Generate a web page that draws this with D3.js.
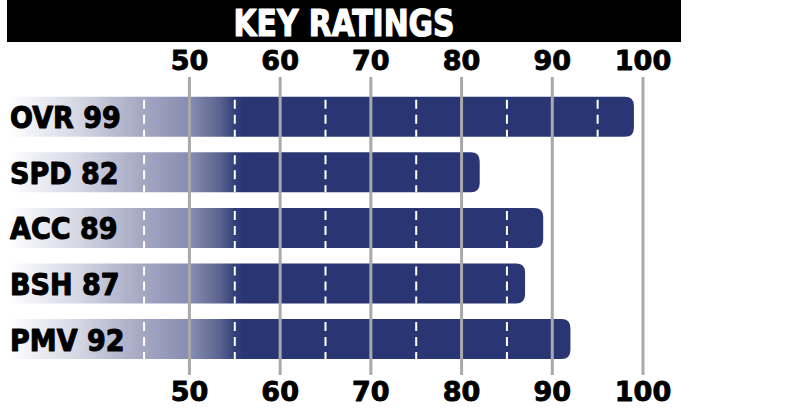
<!DOCTYPE html>
<html><head><meta charset="utf-8">
<script src="https://cdn.jsdelivr.net/npm/d3@7"></script>
<style>
html,body{margin:0;padding:0;background:#fff;}
svg{display:block;}
</style></head>
<body>
<svg id="chart" width="785" height="415"></svg>
<script>
const title = "KEY RATINGS";
const categories = ["OVR", "SPD", "ACC", "BSH", "PMV"];
const values = [99, 82, 89, 87, 92];
const tickValues = [50, 60, 70, 80, 90, 100];
const dashValues = [45, 55, 65, 75, 85, 95];
const domainMin = 30, domainMax = 100;

const svg = d3.select("#chart");
const navy = "#2a3673";

const x = d3.scaleLinear().domain([domainMin, domainMax]).range([8, 643]);
const y = d3.scaleBand().domain(categories).range([88.9, 366.9]).paddingInner(0.28).paddingOuter(0.14);

// title bar
svg.append("rect").attr("x", 7).attr("y", 0).attr("width", 674).attr("height", 42).attr("fill", "#000");
svg.append("text").attr("x", 344).attr("y", 35.5).attr("text-anchor", "middle")
  .attr("font-family", "DejaVu Sans Condensed, DejaVu Sans").attr("font-weight", "bold")
  .attr("font-size", 38).attr("fill", "#fff")
  .attr("stroke", "#fff").attr("stroke-width", 1.2).attr("stroke-linejoin", "round")
  .attr("textLength", 221).attr("lengthAdjust", "spacingAndGlyphs")
  .text(title);

// gradient
const defs = svg.append("defs");
const grad = defs.append("linearGradient").attr("id", "barGrad")
  .attr("gradientUnits", "userSpaceOnUse")
  .attr("x1", x(domainMin)).attr("x2", x(56)).attr("y1", 0).attr("y2", 0);
[[0, "#ffffff"], [0.3, "#d4d6e3"], [0.56, "#a5a9c3"], [0.78, "#858bb0"], [0.9, "#59628f"], [0.96, "#34407a"], [1, navy]]
  .forEach(([o, c]) => grad.append("stop").attr("offset", o).attr("stop-color", c));

const data = categories.map((c, i) => ({cat: c, value: values[i]}));
const r = 9;
function barPath(d) {
  const x0 = x(domainMin), x1 = x(d.value), y0 = y(d.cat), h = y.bandwidth();
  return `M${x0},${y0}H${x1 - r}Q${x1},${y0} ${x1},${y0 + r}V${y0 + h - r}Q${x1},${y0 + h} ${x1 - r},${y0 + h}H${x0}Z`;
}
svg.append("g").selectAll("path").data(data).join("path")
  .attr("d", barPath).attr("fill", "url(#barGrad)");

// dashed white lines inside bars
const dashG = svg.append("g");
data.forEach(d => {
  dashG.selectAll(null).data(dashValues.filter(v => v < d.value - 1)).join("line")
    .attr("x1", v => x(v)).attr("x2", v => x(v))
    .attr("y1", y(d.cat) + 3).attr("y2", y(d.cat) + y.bandwidth())
    .attr("stroke", "#fff").attr("stroke-width", 2).attr("stroke-dasharray", "9,6");
});

// gray grid lines above bars
svg.append("g").selectAll("line").data(tickValues).join("line")
  .attr("x1", d => x(d)).attr("x2", d => x(d))
  .attr("y1", 77).attr("y2", 375)
  .attr("stroke", "#a9a9ab").attr("stroke-width", 3);

// tick labels top and bottom
const tickFont = "DejaVu Sans, Verdana, sans-serif";
[70, 401].forEach(by => {
  svg.append("g").selectAll("text").data(tickValues).join("text")
    .attr("x", d => x(d)).attr("y", by).attr("text-anchor", "middle")
    .attr("font-family", tickFont).attr("font-weight", "bold").attr("font-size", 27)
    .attr("fill", "#000").attr("stroke", "#000").attr("stroke-width", 0.9).attr("stroke-linejoin", "round")
    .text(d => d);
});

// category labels
svg.append("g").selectAll("text").data(data).join("text")
  .attr("x", 10).attr("y", d => y(d.cat) + y.bandwidth() / 2 + 11.5)
  .attr("font-family", "DejaVu Sans Condensed, DejaVu Sans").attr("font-weight", "bold")
  .attr("font-size", 30).attr("fill", "#000")
  .attr("stroke", "#000").attr("stroke-width", 1).attr("stroke-linejoin", "round")
  .text(d => `${d.cat} ${d.value}`);
</script>
</body></html>
